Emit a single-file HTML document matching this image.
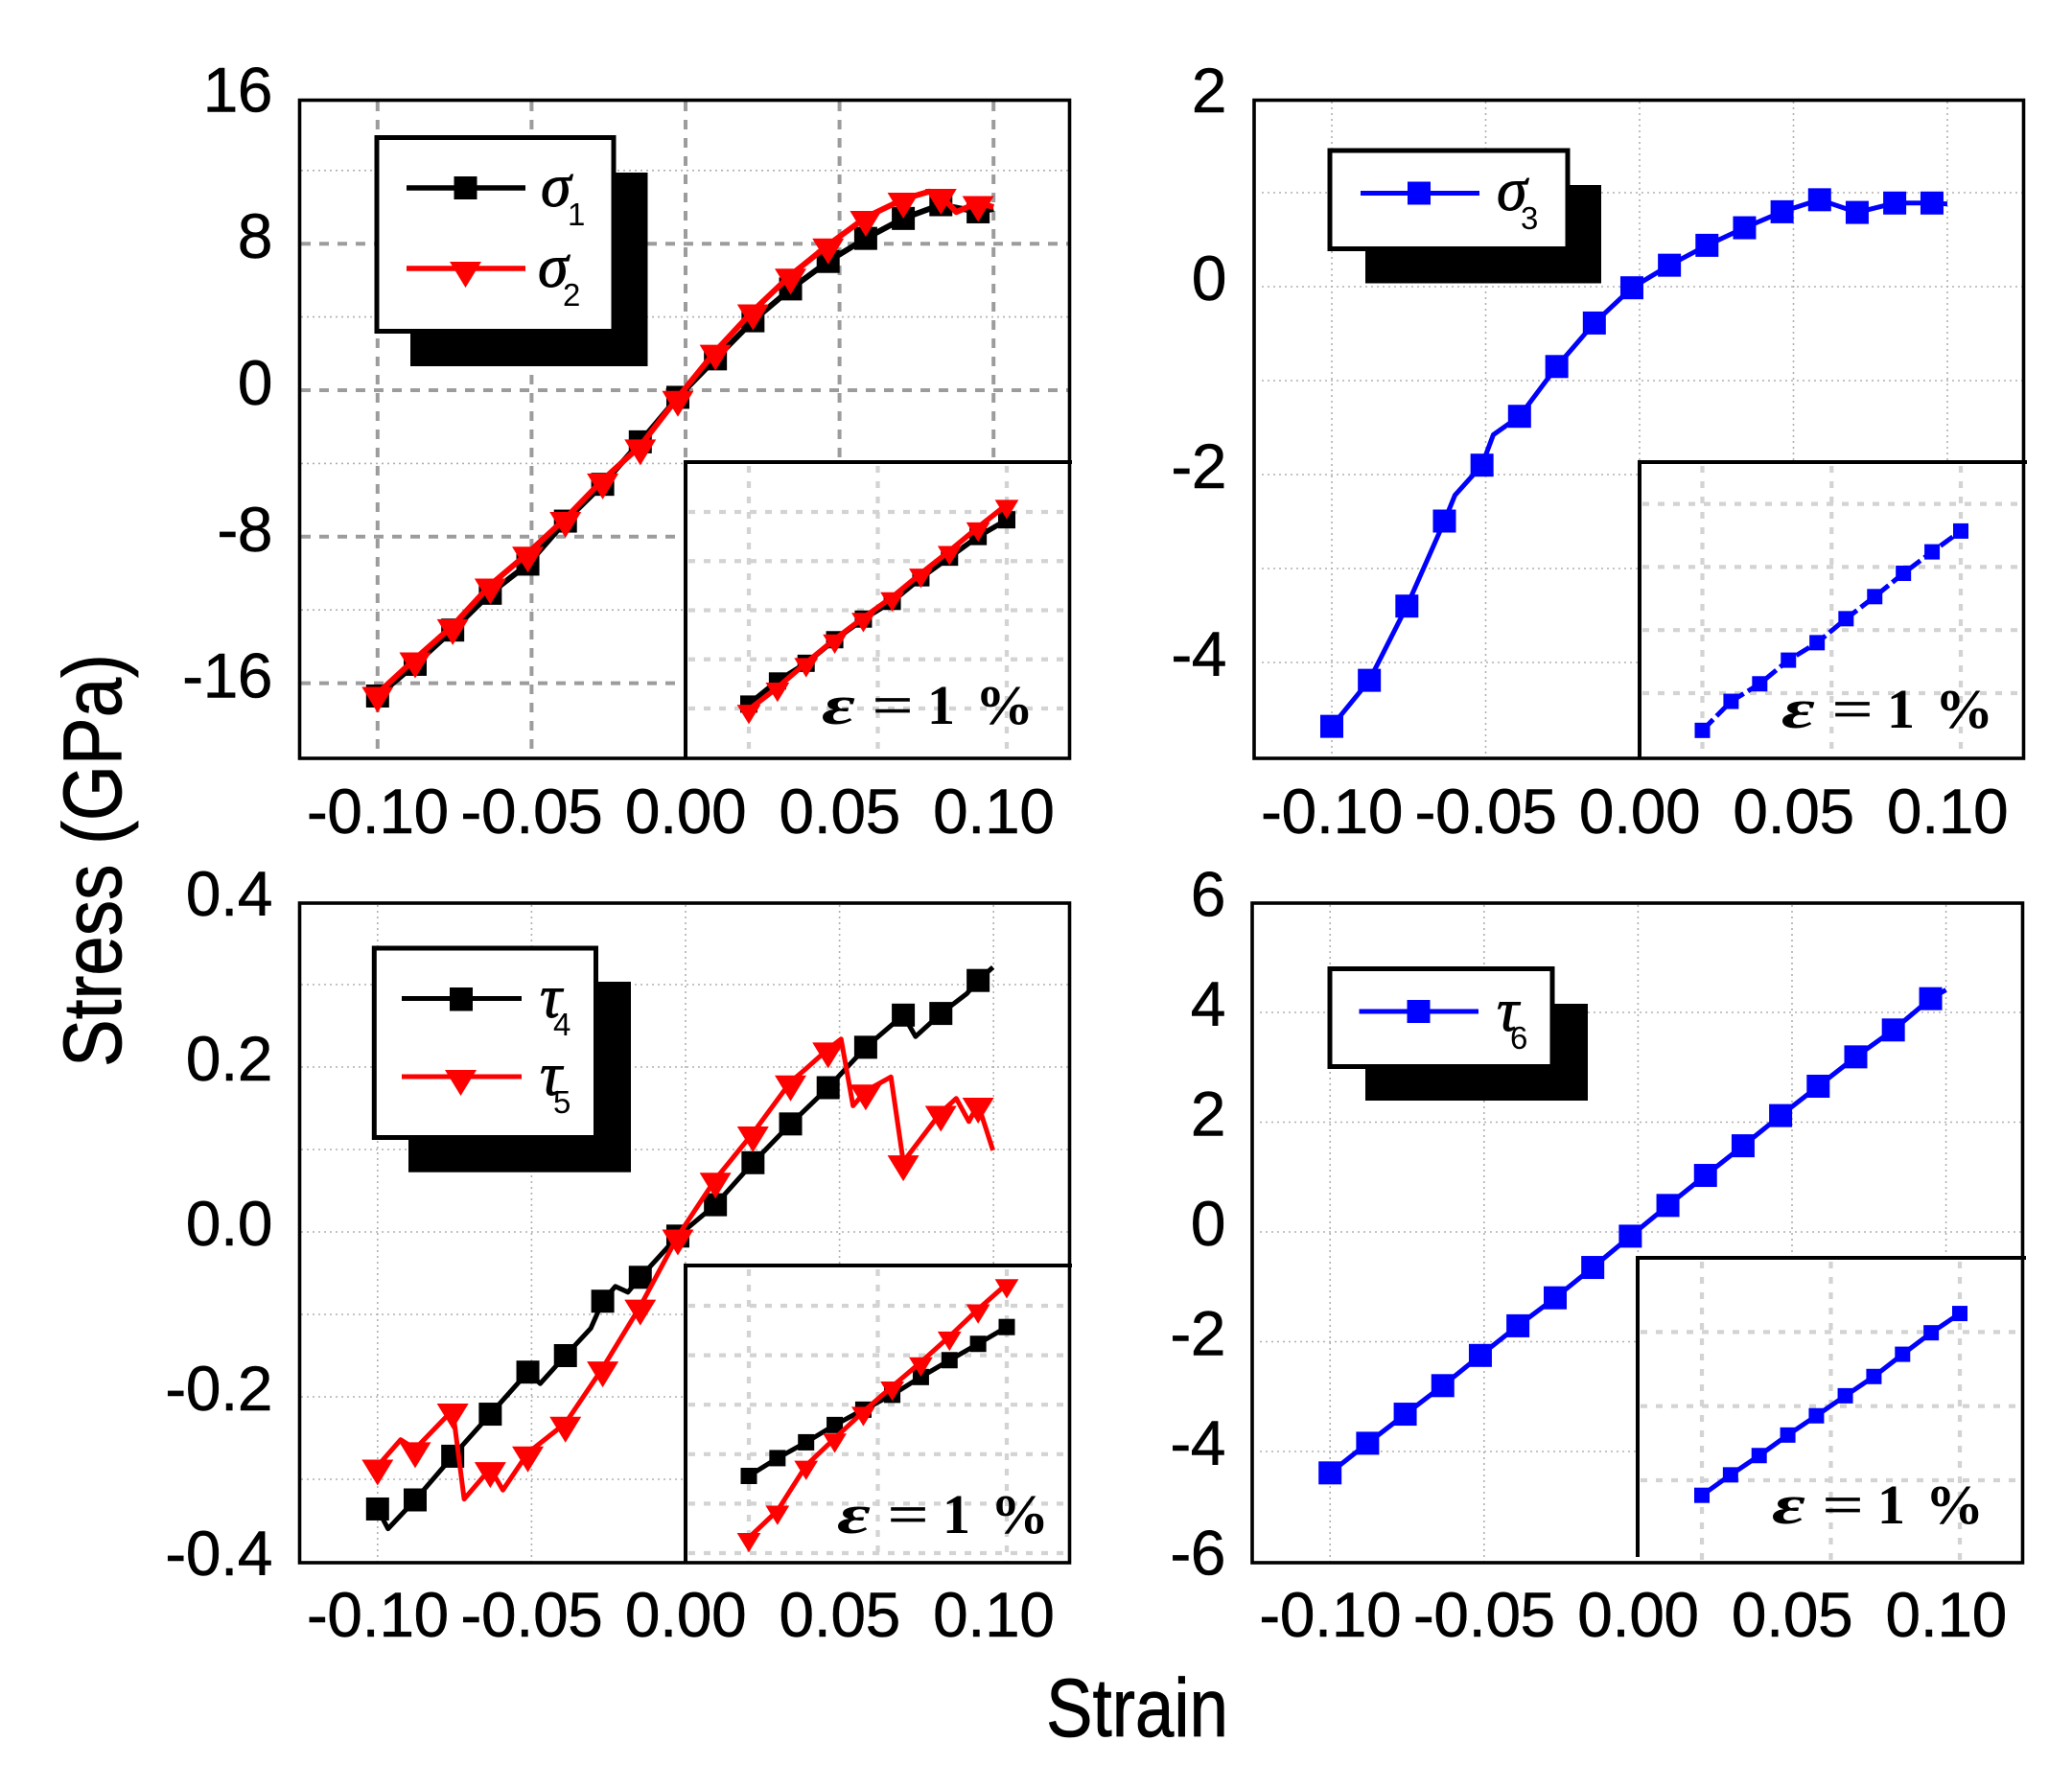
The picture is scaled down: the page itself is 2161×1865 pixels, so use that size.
<!DOCTYPE html>
<html lang="en">
<head>
<meta charset="utf-8">
<title>Stress-strain panels</title>
<style>
html,body{margin:0;padding:0;background:#fff;}
svg{display:block;}
text{font-family:"Liberation Sans",sans-serif;fill:#000;}
.tick{font-size:66px;letter-spacing:-0.5px;stroke:#000;stroke-width:.5;}
.title{font-size:86px;stroke:#000;stroke-width:.8;}
.sym{font-family:"Liberation Serif",serif;font-style:italic;font-size:64px;stroke:#000;stroke-width:.9;}
.sub{font-size:33px;}
.eps{font-family:"Liberation Serif",serif;font-size:58px;font-weight:bold;}
.eps-it{font-style:italic;}
.eps-eq{font-weight:normal;stroke:#000;stroke-width:.8;}
.frame{fill:none;stroke:#000;stroke-width:3.6;}
.inset-border{fill:none;stroke:#000;stroke-width:4;}
.legend-box{fill:#fff;stroke:#000;stroke-width:5;}
</style>
</head>
<body>
<svg xmlns="http://www.w3.org/2000/svg" width="2161" height="1865" viewBox="0 0 2161 1865">
<rect x="0" y="0" width="2161" height="1865" fill="#fff"/>

<g>
  <g id="p1-grid"></g>
  <g id="p1-series"></g>
  <rect x="715" y="482" width="400" height="309" fill="#fff"/>
  <g id="p1-inset-grid"></g>
  <g id="p1-inset-series"></g>
  <rect class="frame" x="312.5" y="104.5" width="803" height="686.5"/>
  <path class="inset-border" d="M715,792V482H1118"/>
  <g id="p1-ticks"></g>
  <g transform="translate(857,755)">
    <text class="eps eps-it" x="0" textLength="35" lengthAdjust="spacingAndGlyphs">ε</text>
    <text class="eps eps-eq" x="53" textLength="42" lengthAdjust="spacingAndGlyphs">=</text>
    <text class="eps" x="110">1</text>
    <text class="eps" x="160" textLength="61" lengthAdjust="spacingAndGlyphs">%</text>
  </g>
  <g>
    <rect x="428" y="180" width="247.5" height="202" fill="#000"/>
    <rect class="legend-box" x="393" y="143.5" width="247" height="202"/>
    <line x1="424" x2="548" y1="196" y2="196" stroke="#000" stroke-width="5.5"/>
    <rect x="473.5" y="184" width="24" height="24" fill="#000"/>
    <text class="sym" x="564" y="215">σ</text>
    <text class="sub" x="592" y="235">1</text>
    <line x1="424" x2="548" y1="280" y2="280" stroke="#f00" stroke-width="5.5"/>
    <path d="M469,273H502L485.5,300Z" fill="#f00"/>
    <text class="sym" x="561" y="299">σ</text>
    <text class="sub" x="587" y="319">2</text>
  </g>
</g>

<g>
  <g id="p2-grid"></g>
  <g id="p2-series"></g>
  <rect x="1710" y="482" width="400" height="309" fill="#fff"/>
  <g id="p2-inset-grid"></g>
  <g id="p2-inset-series"></g>
  <rect class="frame" x="1308" y="104.5" width="802.5" height="686.5"/>
  <path class="inset-border" d="M1710,792V482H2114"/>
  <g id="p2-ticks"></g>
  <g transform="translate(1858,759)">
    <text class="eps eps-it" x="0" textLength="35" lengthAdjust="spacingAndGlyphs">ε</text>
    <text class="eps eps-eq" x="53" textLength="42" lengthAdjust="spacingAndGlyphs">=</text>
    <text class="eps" x="110">1</text>
    <text class="eps" x="160" textLength="61" lengthAdjust="spacingAndGlyphs">%</text>
  </g>
  <g>
    <rect x="1424" y="193" width="246" height="102.5" fill="#000"/>
    <rect class="legend-box" x="1387" y="157" width="248" height="102.5"/>
    <line x1="1419" x2="1543" y1="201.5" y2="201.5" stroke="#00f" stroke-width="5"/>
    <rect x="1468" y="189.5" width="24" height="24" fill="#00f"/>
    <text class="sym" x="1561" y="219">σ</text>
    <text class="sub" x="1586" y="239">3</text>
  </g>
</g>

<g>
  <g id="p3-grid"></g>
  <g id="p3-series"></g>
  <rect x="715" y="1320" width="400" height="310" fill="#fff"/>
  <g id="p3-inset-grid"></g>
  <g id="p3-inset-series"></g>
  <rect class="frame" x="312.5" y="942" width="803" height="688"/>
  <path class="inset-border" d="M715,1630V1320H1118"/>
  <g id="p3-ticks"></g>
  <g transform="translate(873,1599)">
    <text class="eps eps-it" x="0" textLength="35" lengthAdjust="spacingAndGlyphs">ε</text>
    <text class="eps eps-eq" x="53" textLength="42" lengthAdjust="spacingAndGlyphs">=</text>
    <text class="eps" x="110">1</text>
    <text class="eps" x="160" textLength="61" lengthAdjust="spacingAndGlyphs">%</text>
  </g>
  <g>
    <rect x="426" y="1024" width="232" height="198.7" fill="#000"/>
    <rect class="legend-box" x="390.3" y="989" width="231.2" height="197.5"/>
    <line x1="419" x2="544" y1="1041.5" y2="1041.5" stroke="#000" stroke-width="5"/>
    <rect x="469" y="1030" width="24" height="24.5" fill="#000"/>
    <text class="sym" x="563" y="1061">τ</text>
    <text class="sub" x="577" y="1080">4</text>
    <line x1="419" x2="544" y1="1123" y2="1123" stroke="#f00" stroke-width="5"/>
    <path d="M464,1116H497L480.5,1143Z" fill="#f00"/>
    <text class="sym" x="563" y="1142">τ</text>
    <text class="sub" x="577" y="1161">5</text>
  </g>
</g>

<g>
  <g id="p4-grid"></g>
  <g id="p4-series"></g>
  <rect x="1708" y="1312" width="401" height="318" fill="#fff"/>
  <g id="p4-inset-grid"></g>
  <g id="p4-inset-series"></g>
  <rect class="frame" x="1306" y="942" width="803.5" height="688"/>
  <path class="inset-border" d="M1708,1624V1312H2113"/>
  <g id="p4-ticks"></g>
  <g transform="translate(1848,1589)">
    <text class="eps eps-it" x="0" textLength="35" lengthAdjust="spacingAndGlyphs">ε</text>
    <text class="eps eps-eq" x="53" textLength="42" lengthAdjust="spacingAndGlyphs">=</text>
    <text class="eps" x="110">1</text>
    <text class="eps" x="160" textLength="61" lengthAdjust="spacingAndGlyphs">%</text>
  </g>
  <g>
    <rect x="1424" y="1047" width="232" height="101" fill="#000"/>
    <rect class="legend-box" x="1387" y="1010.5" width="232" height="102"/>
    <line x1="1417.5" x2="1542" y1="1055" y2="1055" stroke="#00f" stroke-width="5"/>
    <rect x="1467.5" y="1043" width="24" height="24" fill="#00f"/>
    <text class="sym" x="1561" y="1075">τ</text>
    <text class="sub" x="1575" y="1094">6</text>
  </g>
</g>

<text class="title" transform="translate(126,1113) rotate(-90)" textLength="431" lengthAdjust="spacingAndGlyphs">Stress (GPa)</text>
<text class="title" x="1091" y="1811" textLength="190" lengthAdjust="spacingAndGlyphs">Strain</text>

<script>
// ---- shared axis data ----
const strainTicks = [-0.10, -0.05, 0.00, 0.05, 0.10];
const strainTickLabels = ['-0.10', '-0.05', '0.00', '0.05', '0.10'];
const markerStrain = [-0.1, -0.0878, -0.0756, -0.0634, -0.0512, -0.039, -0.0269, -0.0147, -0.0025, 0.0097, 0.0219, 0.0341, 0.0463, 0.0585, 0.0707, 0.0829, 0.095];
const insetStrain = [0, 0.00111, 0.00222, 0.00333, 0.00444, 0.00556, 0.00667, 0.00778, 0.00889, 0.01];
const insetStrainTicks = [0, 0.005, 0.01];

// ---- panel 1: sigma 1, sigma 2 ----
const p1MajorTicks = [8, 0, -8, -16];
const p1MinorTicks = [12, 4, -4, -12];
const p1TickValues = [16, 8, 0, -8, -16];
const p1TickLabels = ['16', '8', '0', '-8', '-16'];
const sigma1Strain = [-0.1, -0.0878, -0.0756, -0.0634, -0.0512, -0.039, -0.0269, -0.0147, -0.0025, 0.0097, 0.0219, 0.0341, 0.0463, 0.0585, 0.0707, 0.0829, 0.095, 0.1];
const sigma1Stress = [-16.7, -14.97, -13.1, -11.09, -9.5, -7.15, -5.14, -2.82, -0.39, 1.71, 3.79, 5.53, 7.03, 8.29, 9.38, 10.13, 9.74, 9.9];
const sigma2Strain = [-0.1, -0.0878, -0.0756, -0.0634, -0.0512, -0.039, -0.0269, -0.0147, -0.0025, 0.0097, 0.0219, 0.0341, 0.0463, 0.0585, 0.0707, 0.0792, 0.0829, 0.0879, 0.095, 0.1];
const sigma2Stress = [-16.56, -14.67, -12.86, -10.64, -8.9, -7.0, -4.9, -3.04, -0.39, 2.13, 4.33, 6.28, 7.93, 9.44, 10.43, 10.85, 10.64, 9.73, 10.25, 10.0];
const p1InsetTicks = [0, 0.5, 1, 1.5, 2];
const sigma1InsetStress = [0.045, 0.28, 0.46, 0.70, 0.91, 1.09, 1.33, 1.54, 1.75, 1.92];
const sigma2InsetStress = [-0.012, 0.214, 0.464, 0.704, 0.924, 1.134, 1.374, 1.604, 1.844, 2.074];

// ---- panel 2: sigma 3 ----
const p2MinorTicks = [1, 0, -1, -2, -3, -4];
const p2TickValues = [2, 0, -2, -4];
const p2TickLabels = ['2', '0', '-2', '-4'];
const sigma3Strain = [-0.1, -0.0878, -0.0756, -0.0634, -0.06, -0.0512, -0.0475, -0.039, -0.0269, -0.0147, -0.0025, 0.0097, 0.0219, 0.0341, 0.0463, 0.0585, 0.0707, 0.0829, 0.095, 0.1];
const sigma3Stress = [-4.68, -4.19, -3.40, -2.495, -2.22, -1.90, -1.575, -1.38, -0.85, -0.387, -0.012, 0.228, 0.44, 0.627, 0.797, 0.925, 0.79, 0.89, 0.89, 0.88];
const p2InsetTicks = [0, 1, 2, 3];
const sigma3InsetStress = [-0.59, -0.13, 0.148, 0.523, 0.80, 1.18, 1.53, 1.90, 2.24, 2.57];

// ---- panel 3: tau 4, tau 5 ----
const p3MinorTicks = [0.3, 0.2, 0.1, 0, -0.1, -0.2, -0.3];
const p3TickValues = [0.4, 0.2, 0, -0.2, -0.4];
const p3TickLabels = ['0.4', '0.2', '0.0', '-0.2', '-0.4'];
const tau4Strain = [-0.1, -0.0966, -0.0878, -0.0756, -0.0634, -0.0512, -0.0472, -0.039, -0.0308, -0.0269, -0.0228, -0.0187, -0.0147, -0.0025, 0.0097, 0.0219, 0.0341, 0.0463, 0.0585, 0.0707, 0.0747, 0.0829, 0.0913, 0.095, 0.0998];
const tau4Stress = [-0.336, -0.36, -0.325, -0.272, -0.221, -0.170, -0.184, -0.150, -0.117, -0.084, -0.066, -0.073, -0.055, -0.005, 0.033, 0.084, 0.131, 0.175, 0.224, 0.263, 0.237, 0.265, 0.289, 0.305, 0.321];
const tau5Strain = [-0.1, -0.0925, -0.0878, -0.0756, -0.0719, -0.0634, -0.0593, -0.0512, -0.039, -0.0269, -0.0147, -0.0025, 0.0097, 0.0219, 0.0341, 0.0388, 0.0463, 0.0505, 0.0544, 0.0585, 0.0667, 0.0707, 0.0829, 0.0879, 0.092, 0.095, 0.0998];
const tau5Stress = [-0.284, -0.252, -0.263, -0.216, -0.324, -0.287, -0.313, -0.268, -0.232, -0.165, -0.090, -0.005, 0.064, 0.120, 0.182, 0.197, 0.222, 0.234, 0.153, 0.171, 0.188, 0.085, 0.145, 0.162, 0.134, 0.155, 0.099];
const p3InsetTicks = [0, 0.01, 0.02, 0.03, 0.04, 0.05];
const tau4InsetStress = [0.0156, 0.0192, 0.0224, 0.0259, 0.029, 0.032, 0.0356, 0.039, 0.0423, 0.0457];
const tau5InsetStress = [0.0031, 0.0086, 0.0177, 0.0232, 0.0286, 0.0337, 0.0386, 0.0438, 0.0493, 0.0544];

// ---- panel 4: tau 6 ----
const p4MinorTicks = [4, 2, 0, -2, -4];
const p4TickValues = [6, 4, 2, 0, -2, -4, -6];
const p4TickLabels = ['6', '4', '2', '0', '-2', '-4', '-6'];
const tau6Strain = [-0.1, -0.0878, -0.0756, -0.0634, -0.0512, -0.039, -0.0269, -0.0147, -0.0025, 0.0097, 0.0219, 0.0341, 0.0463, 0.0585, 0.0707, 0.0829, 0.095, 0.1];
const tau6Stress = [-4.39, -3.85, -3.32, -2.80, -2.25, -1.71, -1.20, -0.647, -0.077, 0.483, 1.03, 1.57, 2.12, 2.655, 3.19, 3.68, 4.25, 4.41];
const p4InsetTicks = [0, 1, 2];
const tau6InsetStress = [-0.203, 0.073, 0.333, 0.61, 0.87, 1.14, 1.40, 1.70, 1.99, 2.25];

// ---- drawing helpers ----
const SVG_NS = 'http://www.w3.org/2000/svg';
function make(tag, parent, attrs) {
  const el = document.createElementNS(SVG_NS, tag);
  for (const k in attrs) el.setAttribute(k, attrs[k]);
  parent.appendChild(el);
  return el;
}
function linearAxis(origin, pixelsPerUnit) {
  return v => origin + v * pixelsPerUnit;
}
function interp(xs, ys, x) {
  for (let i = 0; i < xs.length - 1; i++) {
    if (x <= xs[i + 1]) {
      const t = (x - xs[i]) / (xs[i + 1] - xs[i]);
      return ys[i] + t * (ys[i + 1] - ys[i]);
    }
  }
  return ys[ys.length - 1];
}
function vLines(group, values, xAxis, y1, y2, style) {
  values.forEach(v => {
    const el = make('line', group, Object.assign({x1: xAxis(v), x2: xAxis(v), y1: y1, y2: y2}, style));
    
    
  });
}
function hLines(group, values, yAxis, x1, x2, style) {
  values.forEach(v => {
    const el = make('line', group, Object.assign({x1: x1, x2: x2, y1: yAxis(v), y2: yAxis(v)}, style));
    
    
  });
}
function tickLabels(group, values, labels, yAxis, rightX, xAxis, baselineX, offset) {
  values.forEach((v, i) => {
    const t = make('text', group, {'class': 'tick', x: rightX, y: yAxis(v) + offset, 'text-anchor': 'end'});
    t.textContent = labels[i];
    
    
  });
  strainTicks.forEach((v, i) => {
    const t = make('text', group, {'class': 'tick', x: xAxis(v), y: baselineX, 'text-anchor': 'middle'});
    t.textContent = strainTickLabels[i];
    
    
  });
}
function addMarker(group, kind, cx, cy, size, color) {
  let el;
  if (kind === 'square') {
    el = make('rect', group, {x: cx - size / 2, y: cy - size / 2, width: size, height: size, fill: color});
  } else {
    const w = size * 1.375, h = size * 1.125;
    el = make('path', group, {d: `M${cx - w / 2},${cy - h * 0.25}H${cx + w / 2}L${cx},${cy + h * 0.75}Z`, fill: color});
  }
  
  
}
function addLine(group, xs, ys, xAxis, yAxis, color, width, dash) {
  const pts = xs.map((x, i) => xAxis(x).toFixed(1) + ',' + yAxis(ys[i]).toFixed(1)).join(' ');
  const attrs = {points: pts, fill: 'none', stroke: color, 'stroke-width': width, 'stroke-linejoin': 'round'};
  if (dash) attrs['stroke-dasharray'] = dash;
  const el = make('polyline', group, attrs);
  
  
}
function mainSeries(group, xs, ys, xAxis, yAxis, color, kind, size, width) {
  addLine(group, xs, ys, xAxis, yAxis, color, width);
  markerStrain.forEach(s => addMarker(group, kind, xAxis(s), yAxis(interp(xs, ys, s)), size, color));
}
function insetSeries(group, ys, xAxis, yAxis, color, kind, size, width, dash) {
  addLine(group, insetStrain, ys, xAxis, yAxis, color, width, dash);
  insetStrain.forEach((s, i) => addMarker(group, kind, xAxis(s), yAxis(ys[i]), size, color));
}
const $ = id => document.getElementById(id);
const major = {stroke: '#9c9c9c', 'stroke-width': 4, 'stroke-dasharray': '10 9'};
const minor = {stroke: '#b0b0b0', 'stroke-width': 1.6, 'stroke-dasharray': '2 4'};
const insetGrid = {stroke: '#d3d3d3', 'stroke-width': 4.2, 'stroke-dasharray': '7 9'};

// panel 1
const p1x = linearAxis(715, 3212), p1y = linearAxis(407, -19.1);
vLines($('p1-grid'), strainTicks, p1x, 106, 790, major);
hLines($('p1-grid'), p1MajorTicks, p1y, 314, 1114, major);
hLines($('p1-grid'), p1MinorTicks, p1y, 314, 1114, minor);
mainSeries($('p1-series'), sigma1Strain, sigma1Stress, p1x, p1y, '#000', 'square', 24, 6);
mainSeries($('p1-series'), sigma2Strain, sigma2Stress, p1x, p1y, '#f00', 'triangle', 24, 6);
const p1ix = linearAxis(781, 26900), p1iy = linearAxis(739, -102.5);
vLines($('p1-inset-grid'), insetStrainTicks, p1ix, 486, 790, insetGrid);
hLines($('p1-inset-grid'), p1InsetTicks, p1iy, 718, 1114, insetGrid);
insetSeries($('p1-inset-series'), sigma1InsetStress, p1ix, p1iy, '#000', 'square', 18, 5.5);
insetSeries($('p1-inset-series'), sigma2InsetStress, p1ix, p1iy, '#f00', 'triangle', 18, 5.5);
tickLabels($('p1-ticks'), p1TickValues, p1TickLabels, p1y, 284, p1x, 869, 15);

// panel 2
const p2x = linearAxis(1710, 3210), p2y = linearAxis(299, -98);
vLines($('p2-grid'), strainTicks, p2x, 106, 790, minor);
hLines($('p2-grid'), p2MinorTicks, p2y, 1316, 2109, minor);
mainSeries($('p2-series'), sigma3Strain, sigma3Stress, p2x, p2y, '#00f', 'square', 24, 5);
const p2ix = linearAxis(1775.5, 26950), p2iy = linearAxis(723, -65.8);
vLines($('p2-inset-grid'), insetStrainTicks, p2ix, 486, 790, insetGrid);
hLines($('p2-inset-grid'), p2InsetTicks, p2iy, 1713, 2112, insetGrid);
insetSeries($('p2-inset-series'), sigma3InsetStress, p2ix, p2iy, '#00f', 'square', 16, 5, '16 5');
tickLabels($('p2-ticks'), p2TickValues, p2TickLabels, p2y, 1279, p2x, 869, 14);

// panel 3
const p3x = linearAxis(715, 3212), p3y = linearAxis(1285, -860);
vLines($('p3-grid'), strainTicks, p3x, 944, 1629, minor);
hLines($('p3-grid'), p3MinorTicks, p3y, 314, 1114, minor);
mainSeries($('p3-series'), tau4Strain, tau4Stress, p3x, p3y, '#000', 'square', 24, 5);
mainSeries($('p3-series'), tau5Strain, tau5Stress, p3x, p3y, '#f00', 'triangle', 24, 5);
const p3ix = linearAxis(781, 26900), p3iy = linearAxis(1620, -5160);
vLines($('p3-inset-grid'), insetStrainTicks, p3ix, 1324, 1629, insetGrid);
hLines($('p3-inset-grid'), p3InsetTicks, p3iy, 718, 1114, insetGrid);
insetSeries($('p3-inset-series'), tau4InsetStress, p3ix, p3iy, '#000', 'square', 17, 5);
insetSeries($('p3-inset-series'), tau5InsetStress, p3ix, p3iy, '#f00', 'triangle', 18, 5);
tickLabels($('p3-ticks'), p3TickValues, p3TickLabels, p3y, 284, p3x, 1707, 14);

// panel 4
const p4x = linearAxis(1708.4, 3212), p4y = linearAxis(1285, -57.25);
vLines($('p4-grid'), strainTicks, p4x, 944, 1629, minor);
hLines($('p4-grid'), p4MinorTicks, p4y, 1314, 2108, minor);
mainSeries($('p4-series'), tau6Strain, tau6Stress, p4x, p4y, '#00f', 'square', 24, 5);
const p4ix = linearAxis(1775, 26900), p4iy = linearAxis(1544, -77.3);
vLines($('p4-inset-grid'), insetStrainTicks, p4ix, 1316, 1629, insetGrid);
hLines($('p4-inset-grid'), p4InsetTicks, p4iy, 1711, 2108, insetGrid);
insetSeries($('p4-inset-series'), tau6InsetStress, p4ix, p4iy, '#00f', 'square', 16, 5);
tickLabels($('p4-ticks'), p4TickValues, p4TickLabels, p4y, 1278, p4x, 1707, 14);
</script>
</svg>
</body>
</html>
